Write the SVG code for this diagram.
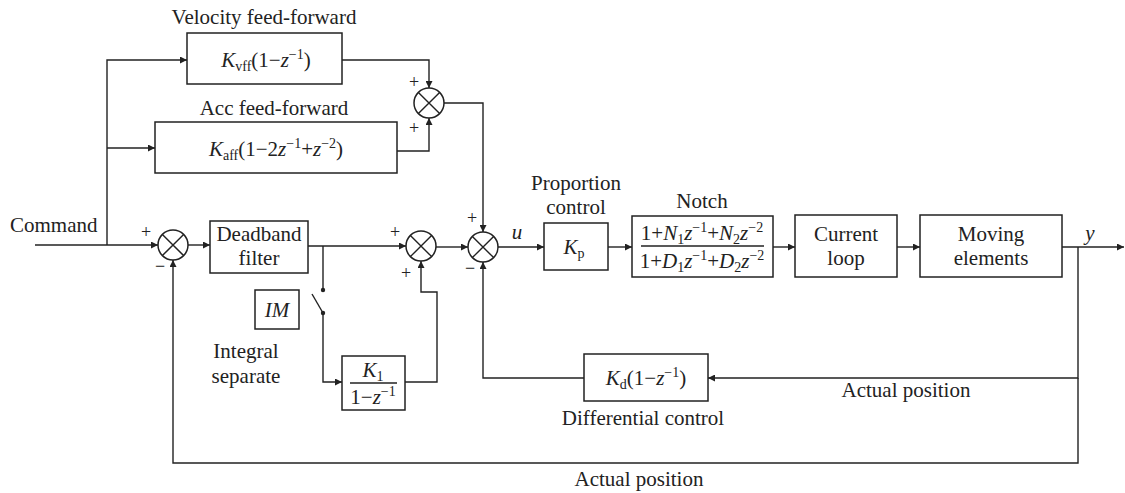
<svg xmlns="http://www.w3.org/2000/svg" width="1125" height="493" viewBox="0 0 1125 493">
<defs>
<marker id="ar" viewBox="0 0 10 10" refX="10" refY="5" markerWidth="10" markerHeight="7" markerUnits="userSpaceOnUse" orient="auto">
<path d="M0,0 L10,5 L0,10 Z" fill="#222"/>
</marker>
</defs>
<style>
text{font-family:"Liberation Serif","Times New Roman",serif;fill:#222;font-size:21px}
.c{text-anchor:middle}
.i{font-style:italic}
.s{font-size:14px}
.box{fill:#fff;stroke:#222;stroke-width:1.5}
.ln{fill:none;stroke:#222;stroke-width:1.4}
.sum circle{fill:#fff;stroke:#222;stroke-width:1.5}
.sum path{stroke:#222;stroke-width:1.4}
.sg{font-size:18px;fill:#222}
</style>
<rect width="1125" height="493" fill="#fff"/>

<g id="connectors" class="ln">
<path d="M35,245 H158" marker-end="url(#ar)"/>
<path d="M107,245 V60 H187" marker-end="url(#ar)"/>
<path d="M107,148 H155" marker-end="url(#ar)"/>
<path d="M342,60 H429 V88" marker-end="url(#ar)"/>
<path d="M397,151 H429 V118" marker-end="url(#ar)"/>
<path d="M444,103 H483 V232" marker-end="url(#ar)"/>
<path d="M188,245 H210" marker-end="url(#ar)"/>
<path d="M308,246 H406" marker-end="url(#ar)"/>
<path d="M323,246 V290"/>
<path d="M312,294 L323,313"/>
<path d="M323,313 V382 H342" marker-end="url(#ar)"/>
<path d="M405,382 H437 V292 H421 V261" marker-end="url(#ar)"/>
<path d="M436,247 H468" marker-end="url(#ar)"/>
<path d="M498,247 H544" marker-end="url(#ar)"/>
<path d="M608,247 H632" marker-end="url(#ar)"/>
<path d="M773,247 H795" marker-end="url(#ar)"/>
<path d="M897,247 H920" marker-end="url(#ar)"/>
<path d="M1062,247 H1124" marker-end="url(#ar)"/>
<path d="M1078,247 V378 H708" marker-end="url(#ar)"/>
<path d="M584,378 H483 V262" marker-end="url(#ar)"/>
<path d="M1078,378 V463 H173 V260" marker-end="url(#ar)"/>
<circle cx="323" cy="290" r="2.2" fill="#222" stroke="none"/>
<circle cx="323" cy="313" r="2.2" fill="#222" stroke="none"/>
</g>

<g id="sum-top" class="sum">
<circle cx="429" cy="103" r="15"/>
<path d="M418.4,92.4 L439.6,113.6 M439.6,92.4 L418.4,113.6"/>
<text x="414" y="88" class="c sg">+</text>
<text x="414" y="134" class="c sg">+</text>
</g>
<g id="sum1" class="sum">
<circle cx="173" cy="245" r="15"/>
<path d="M162.4,234.4 L183.6,255.6 M183.6,234.4 L162.4,255.6"/>
<text x="146" y="238" class="c sg">+</text>
<text x="160" y="272" class="c sg">−</text>
</g>
<g id="sum2" class="sum">
<circle cx="421" cy="246" r="15"/>
<path d="M410.4,235.4 L431.6,256.6 M431.6,235.4 L410.4,256.6"/>
<text x="395" y="238" class="c sg">+</text>
<text x="406" y="279" class="c sg">+</text>
</g>
<g id="sum3" class="sum">
<circle cx="483" cy="247" r="15"/>
<path d="M472.4,236.4 L493.6,257.6 M493.6,236.4 L472.4,257.6"/>
<text x="472" y="224" class="c sg">+</text>
<text x="470" y="274" class="c sg">−</text>
</g>

<text x="10" y="232">Command</text>

<g id="velocity-ff">
<text x="264" y="24" class="c">Velocity feed-forward</text>
<rect class="box" x="187" y="33" width="155" height="51"/>
<text x="266" y="67" class="c"><tspan class="i">K</tspan><tspan class="s" dy="4">vff</tspan><tspan dy="-4">(1−</tspan><tspan class="i">z</tspan><tspan class="s" dy="-8">−1</tspan><tspan dy="8">)</tspan></text>
</g>

<g id="acc-ff">
<text x="274" y="115" class="c">Acc feed-forward</text>
<rect class="box" x="155" y="122" width="242" height="51"/>
<text x="276" y="156" class="c"><tspan class="i">K</tspan><tspan class="s" dy="4">aff</tspan><tspan dy="-4">(1−2</tspan><tspan class="i">z</tspan><tspan class="s" dy="-8">−1</tspan><tspan dy="8">+</tspan><tspan class="i">z</tspan><tspan class="s" dy="-8">−2</tspan><tspan dy="8">)</tspan></text>
</g>

<g id="deadband">
<rect class="box" x="210" y="221" width="98" height="52"/>
<text x="259" y="241" class="c">Deadband</text>
<text x="259" y="265" class="c">filter</text>
</g>

<g id="im">
<rect class="box" x="255" y="290" width="44" height="39"/>
<text x="277" y="317" class="c i">IM</text>
<text x="246" y="358" class="c">Integral</text>
<text x="246" y="383" class="c">separate</text>
</g>

<g id="integral">
<rect class="box" x="342" y="356" width="63" height="54"/>
<text x="373" y="377" class="c"><tspan class="i">K</tspan><tspan class="s" dy="4">1</tspan></text>
<path class="ln" d="M350,383 H397"/>
<text x="373" y="404" class="c">1−<tspan class="i">z</tspan><tspan class="s" dy="-8">−1</tspan></text>
</g>

<text x="517" y="239" class="c i">u</text>

<g id="proportion">
<text x="576" y="190" class="c">Proportion</text>
<text x="576" y="214" class="c">control</text>
<rect class="box" x="544" y="223" width="64" height="47"/>
<text x="574" y="254" class="c"><tspan class="i">K</tspan><tspan class="s" dy="4">p</tspan></text>
</g>

<g id="notch">
<text x="702" y="208" class="c">Notch</text>
<rect class="box" x="632" y="216" width="141" height="61"/>
<text x="702" y="240" class="c">1+<tspan class="i">N</tspan><tspan class="s" dy="4">1</tspan><tspan class="i" dy="-4">z</tspan><tspan class="s" dy="-8">−1</tspan><tspan dy="8">+</tspan><tspan class="i">N</tspan><tspan class="s" dy="4">2</tspan><tspan class="i" dy="-4">z</tspan><tspan class="s" dy="-8">−2</tspan></text>
<path class="ln" d="M641,246 H764"/>
<text x="702" y="268" class="c">1+<tspan class="i">D</tspan><tspan class="s" dy="4">1</tspan><tspan class="i" dy="-4">z</tspan><tspan class="s" dy="-8">−1</tspan><tspan dy="8">+</tspan><tspan class="i">D</tspan><tspan class="s" dy="4">2</tspan><tspan class="i" dy="-4">z</tspan><tspan class="s" dy="-8">−2</tspan></text>
</g>

<g id="current-loop">
<rect class="box" x="795" y="215" width="102" height="62"/>
<text x="846" y="241" class="c">Current</text>
<text x="846" y="265" class="c">loop</text>
</g>

<g id="moving">
<rect class="box" x="920" y="215" width="142" height="62"/>
<text x="991" y="241" class="c">Moving</text>
<text x="991" y="265" class="c">elements</text>
</g>

<text x="1090" y="240" class="c i">y</text>

<g id="differential">
<rect class="box" x="584" y="354" width="124" height="47"/>
<text x="646" y="385" class="c"><tspan class="i">K</tspan><tspan class="s" dy="4">d</tspan><tspan dy="-4">(1−</tspan><tspan class="i">z</tspan><tspan class="s" dy="-8">−1</tspan><tspan dy="8">)</tspan></text>
<text x="643" y="425" class="c">Differential control</text>
</g>

<text x="906" y="397" class="c">Actual position</text>
<text x="639" y="486" class="c">Actual position</text>
</svg>
